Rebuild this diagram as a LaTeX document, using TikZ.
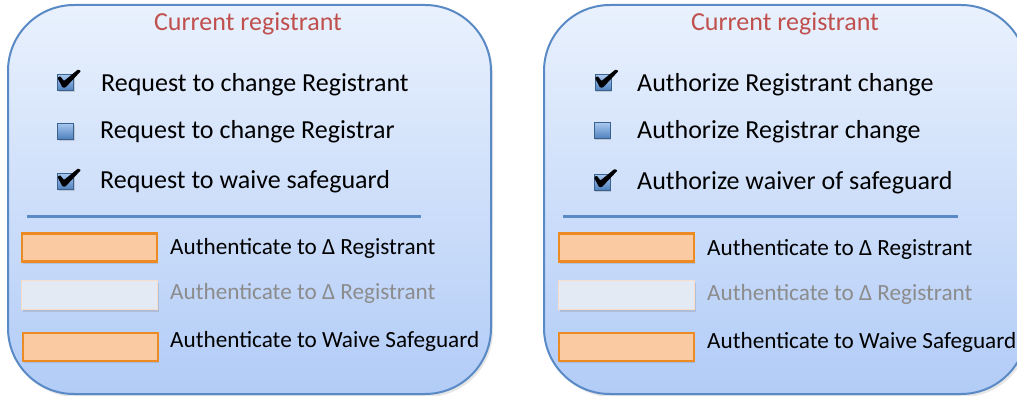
\documentclass[tikz,border=0pt]{standalone}
\usepackage{fontspec}
\setmainfont{Carlito}
\usetikzlibrary{shadows}

\definecolor{panelborder}{HTML}{5A8AC6}
\definecolor{paneltop}{HTML}{E9F1FD}
\definecolor{panelbottom}{HTML}{B2CCF7}
\definecolor{titlered}{HTML}{C0504D}
\definecolor{authfill}{HTML}{FACBA2}
\definecolor{authdraw}{HTML}{EC8A23}
\definecolor{offfill}{HTML}{E3EAF4}
\definecolor{offdraw}{HTML}{F8DDCB}
\definecolor{offtext}{HTML}{8C8C8C}
\definecolor{boxtop}{HTML}{A9C8F0}
\definecolor{boxbottom}{HTML}{4F81BD}

\begin{document}
\begin{tikzpicture}[x=1pt, y=-1pt,
    panel/.style ={draw=panelborder, line width=2pt, rounded corners=66pt,
      top color=paneltop, bottom color=panelbottom, minimum width=483pt, minimum height=389pt,
      drop shadow={opacity=0.2, shadow xshift=2pt, shadow yshift=-3pt}},
    heading/.style ={anchor=base, inner sep=0pt, text=titlered, font=\fontsize{26}{30}\selectfont},
    item/.style ={anchor=base west, inner sep=0pt, font=\fontsize{26}{30}\selectfont},
    authtext/.style ={anchor=base west, inner sep=0pt, font=\fontsize{23.2}{27}\selectfont},
    tickbox/.style ={draw=boxbottom!75!black, line width=0.6pt, top color=boxtop, bottom color=boxbottom,
      minimum size=16pt, inner sep=0pt, drop shadow={opacity=0.3, shadow xshift=1pt, shadow yshift=-1.5pt}},
    tickmark/.style ={fill=black, rounded corners=0.8pt},
    authbox/.style ={draw=authdraw, fill=authfill, line width=2.2pt, minimum width=135pt, minimum height=28pt,
      inner sep=0pt, drop shadow={opacity=0.25, shadow xshift=1pt, shadow yshift=-2pt}},
    offbox/.style ={draw=offdraw, fill=offfill, line width=1.5pt, minimum width=136pt, minimum height=29pt,
      inner sep=0pt, drop shadow={opacity=0.25, shadow xshift=1pt, shadow yshift=-2pt}},
    divider/.style ={draw=panelborder, line width=3pt}]
   \useasboundingbox (0,0) rectangle (1017,396);
   \clip (0,0) rectangle (1017,396);

   \node[panel] (lpanel) at (249.5,199.5) {};
   \node[heading] (ltitle) at (248,31) {Current registrant};
   \node[tickbox] (lbox1) at (65.5,82.5) {};
   \fill[tickmark, shift={(lbox1.center)}] (-8,-4.5) -- (-5.5,-6.5) -- (-1.5,-1.5) -- (12.5,-13) -- (15.5,-11.5) -- (0,5) -- (-3,5) -- cycle;
   \node[item] (lreq1) at (101,91) {Request to change Registrant};
   \node[tickbox] (lbox2) at (65.5,131) {};
   \node[item] (lreq2) at (100,138) {Request to change Registrar};
   \node[tickbox] (lbox3) at (65.5,181.5) {};
   \fill[tickmark, shift={(lbox3.center)}] (-8,-4.5) -- (-5.5,-6.5) -- (-1.5,-1.5) -- (12.5,-13) -- (15.5,-11.5) -- (0,5) -- (-3,5) -- cycle;
   \node[item] (lreq3) at (100,188) {Request to waive safeguard};
   \coordinate (lrule1) at (27,216);
   \coordinate (lrule2) at (421,216);
   \draw[divider] (lrule1) -- (lrule2);
   \node[authbox] (lauth1) at (89.5,247.5) {};
   \node[authtext] (lauthtext1) at (170,254) {Authenticate to Δ Registrant};
   \node[offbox] (lauth2) at (89.5,295) {};
   \node[authtext, text=offtext] (lauthtext2) at (170,299) {Authenticate to Δ Registrant};
   \node[authbox] (lauth3) at (90.5,347) {};
   \node[authtext] (lauthtext3) at (170,347) {Authenticate to Waive Safeguard};

   \node[panel] (rpanel) at (785.5,199.5) {};
   \node[heading] (rtitle) at (785,31) {Current registrant};
   \node[tickbox] (rbox1) at (603,82.5) {};
   \fill[tickmark, shift={(rbox1.center)}] (-8,-4.5) -- (-5.5,-6.5) -- (-1.5,-1.5) -- (12.5,-13) -- (15.5,-11.5) -- (0,5) -- (-3,5) -- cycle;
   \node[item] (rauth1) at (637,91) {Authorize Registrant change};
   \node[tickbox] (rbox2) at (602,130.5) {};
   \node[item] (rauth2) at (637,138) {Authorize Registrar change};
   \node[tickbox] (rbox3) at (602,182) {};
   \fill[tickmark, shift={(rbox3.center)}] (-8,-4.5) -- (-5.5,-6.5) -- (-1.5,-1.5) -- (12.5,-13) -- (15.5,-11.5) -- (0,5) -- (-3,5) -- cycle;
   \node[item] (rauth3) at (637,189) {Authorize waiver of safeguard};
   \coordinate (rrule1) at (563,216);
   \coordinate (rrule2) at (958,216);
   \draw[divider] (rrule1) -- (rrule2);
   \node[authbox] (rkey1) at (626.5,247.5) {};
   \node[authtext] (rkeytext1) at (707,255) {Authenticate to Δ Registrant};
   \node[offbox] (rkey2) at (626.5,295) {};
   \node[authtext, text=offtext] (rkeytext2) at (707,300) {Authenticate to Δ Registrant};
   \node[authbox] (rkey3) at (626.5,347) {};
   \node[authtext] (rkeytext3) at (707,348) {Authenticate to Waive Safeguard};
 \end{tikzpicture}
\end{document}
